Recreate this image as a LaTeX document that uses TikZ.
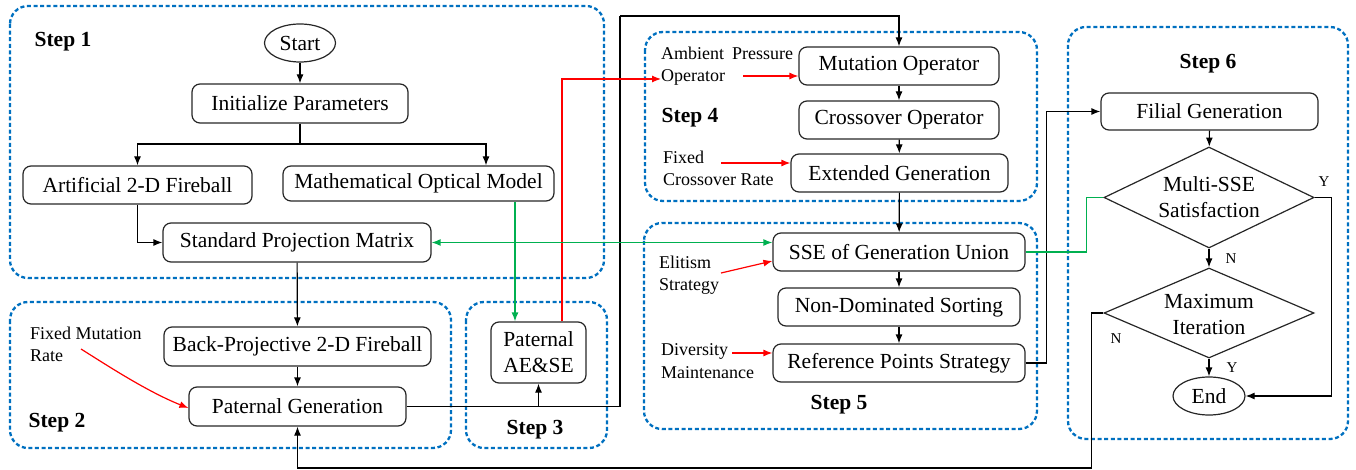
\documentclass[tikz,border=0pt]{standalone}
\usepackage{fontspec}
\setmainfont{Liberation Serif}
\usetikzlibrary{arrows.meta,shapes.geometric,calc}
\definecolor{stepblue}{RGB}{0,112,192}
\definecolor{fgreen}{RGB}{0,176,80}
\newcommand\bxfont{\fontsize{21.5}{26}\selectfont}
\newcommand\smfont{\fontsize{18}{22.5}\selectfont}
\newcommand\ynfont{\fontsize{15}{18}\selectfont}
\begin{document}
\begin{tikzpicture}[x=1pt,y=-1pt,
 stepbox/.style={draw=stepblue, line width=2.3pt, dash pattern=on 4pt off 2.6pt, rounded corners=18pt},
 box/.style={draw=black!85, line width=1.2pt, rounded corners=8pt, inner sep=0pt, font=\bxfont, align=center},
 oval/.style={draw=black!85, line width=1.2pt, ellipse, inner sep=0pt, font=\bxfont},
 dia/.style={draw=black!85, line width=1.2pt, diamond, inner sep=0pt},
 dtext/.style={font=\bxfont, align=center, inner sep=0pt},
 steplabel/.style={font=\bxfont\bfseries, inner sep=0pt},
 side/.style={font=\smfont, align=left, anchor=west, inner sep=0pt},
 yn/.style={font=\ynfont, inner sep=0pt},
 tip/.style={-{Latex[length=9pt,width=7pt]}},
 arr/.style={draw=black, line width=1.2pt, tip},
 ln/.style={draw=black, line width=1.2pt},
 rarr/.style={draw=red, line width=1.2pt, tip},
 garr/.style={draw=fgreen, line width=1.3pt, tip},
 garr2/.style={draw=fgreen, line width=1.3pt, {Latex[length=9pt,width=7pt]}-{Latex[length=9pt,width=7pt]}},
 gln/.style={draw=fgreen, line width=1.3pt}
]
\useasboundingbox (0,0) rectangle (1356,470);

% step frames
\draw[stepbox] (10,6) rectangle (604,278);
\draw[stepbox] (10,302) rectangle (451,448);
\draw[stepbox] (466,302) rectangle (607,448);
\draw[stepbox] (645,32) rectangle (1037,201);
\draw[stepbox] (644,223) rectangle (1037,429);
\draw[stepbox] (1068,27) rectangle (1348,439);

% step labels
\node[steplabel] (l1) at (63,42) {Step 1};
\node[steplabel] (l2) at (57,423) {Step 2};
\node[steplabel] (l3) at (535,430) {Step 3};
\node[steplabel] (l4) at (690,118) {Step 4};
\node[steplabel] (l5) at (839,405) {Step 5};
\node[steplabel] (l6) at (1208,64) {Step 6};

% nodes
\node[oval, minimum width=71pt, minimum height=38pt] (start) at (300,43) {Start};
\node[box, minimum width=216pt, minimum height=39pt] (init) at (300,103.5) {Initialize Parameters};
\node[box, minimum width=229pt, minimum height=38pt] (art) at (137.5,185) {Artificial 2-D Fireball};
\node[box, minimum width=271pt, minimum height=35pt] (math) at (418.5,183.5) {Mathematical Optical Model};
\node[box, minimum width=268pt, minimum height=39pt] (spm) at (297,242.5) {Standard Projection Matrix};
\node[box, minimum width=267pt, minimum height=39pt] (back) at (297.5,346.5) {Back-Projective 2-D Fireball};
\node[box, minimum width=217pt, minimum height=39pt] (pg) at (297.5,406.5) {Paternal Generation};
\node[box, minimum width=95pt, minimum height=61pt] (ae) at (538.5,352.5) {Paternal\\AE\&SE};
\node[box, minimum width=200pt, minimum height=38pt] (mut) at (899,66) {Mutation Operator};
\node[box, minimum width=200pt, minimum height=38pt] (cross) at (899,120) {Crossover Operator};
\node[box, minimum width=217pt, minimum height=38pt] (ext) at (899.5,173) {Extended Generation};
\node[box, minimum width=252pt, minimum height=38pt] (sse) at (899,252) {SSE of Generation Union};
\node[box, minimum width=242pt, minimum height=38pt] (nds) at (899,307) {Non-Dominated Sorting};
\node[box, minimum width=252pt, minimum height=38pt] (rps) at (899,363) {Reference Points Strategy};
\node[box, minimum width=217pt, minimum height=37pt] (fil) at (1209.5,111.5) {Filial Generation};
\node[dia, minimum width=210pt, minimum height=101pt] (multi) at (1209,197.5) {};
\node[dtext] (multiT) at (1209,197.5) {Multi-SSE\\Satisfaction};
\node[dia, minimum width=210pt, minimum height=90pt] (maxit) at (1209,313) {};
\node[dtext] (maxitT) at (1209,314) {Maximum\\Iteration};
\node[oval, minimum width=72pt, minimum height=38pt] (end) at (1209,396) {End};

% side labels
\node[side] (fmr) at (30,344.5) {Fixed Mutation\\Rate};
\node[side] (apo) at (661,66) {Ambient\hspace{8pt}Pressure\\Operator};
\node[side] (fcr) at (663,168.5) {Fixed\\Crossover Rate};
\node[side] (es) at (659,275) {Elitism\\Strategy};
\node[side] (dm) at (661,361) {Diversity\\Maintenance};

% Y/N labels
\node[yn] (y1) at (1324,182) {Y};
\node[yn] (n1) at (1231,259) {N};
\node[yn] (y2) at (1232,368) {Y};
\node[yn] (n2) at (1116,339) {N};

% coordinates
\coordinate (br) at (300,144);
\coordinate (c1) at (620,406.5);
\coordinate (ctop) at (620,16);
\coordinate (fmrOut) at (81,349);
\coordinate (apoOut) at (743,76);
\coordinate (fcrOut) at (721,163);
\coordinate (esOut) at (721,273);
\coordinate (dmOut) at (732,353);

% step 1 connectors
\draw[arr] (start) -- (init);
\draw[ln] (init) -- (br);
\draw[arr] (br) -| (art.north);
\draw[arr] (br) -| ([xshift=67.5pt]math.north);
\draw[arr] (art.south) |- (spm.west);
\draw[arr] (spm) -- (back);
\draw[arr] (back) -- (pg);

% step 2/3
\draw[rarr] (fmrOut) .. controls (108,366) and (148,392) .. ([yshift=-1.5pt]pg.west);
\draw[ln] (pg.east) -- (c1) -- (ctop);
\draw[arr] (ctop) -| (mut.north);
\draw[arr] (pg.east -| ae.south) -- (ae.south);
\draw[garr] ([xshift=96.5pt]math.south) -- ([xshift=96.5pt]math.south |- ae.north);
\draw[rarr] ([xshift=23.5pt]ae.north) |- ([yshift=-13pt]apo.west);

% step 4
\draw[rarr] (apoOut) -- (apoOut -| mut.west);
\draw[arr] (mut) -- (cross);
\draw[arr] (cross) -- (ext);
\draw[rarr] (fcrOut) -- (fcrOut -| ext.west);
\draw[arr] (ext) -- (sse);

% step 5
\draw[garr2] (spm.east) -- (spm.east -| sse.west);
\draw[rarr] (esOut) -- ([yshift=-9pt]sse.west);
\draw[arr] (sse) -- (nds);
\draw[arr] (nds) -- (rps);
\draw[rarr] (dmOut) -- (dmOut -| rps.west);
\draw[arr] (rps.east) -- ++(21,0) |- (fil.west);
\draw[gln] (sse.east) -- ++(61,0) |- (multi.west);

% step 6
\draw[arr] (fil) -- (multi);
\draw[arr] (multi.south) -- (maxit.north);
\draw[arr] (maxit.south) -- (end.north);
\draw[arr] (multi.east) -- ++(17,0) |- (end.east);
\draw[arr] (maxit.west) -- ++(-12,0) -- ++(0,155) -| (pg.south);
\end{tikzpicture}
\end{document}
